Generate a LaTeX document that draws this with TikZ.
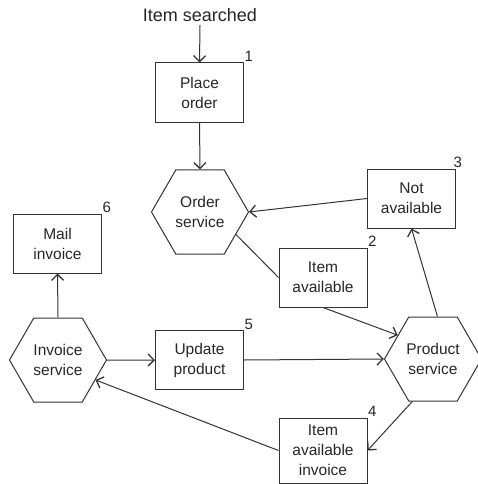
\documentclass[tikz,border=0pt]{standalone}
\usepackage{fontspec}
\setmainfont{Liberation Sans}
\usetikzlibrary{shapes.geometric,arrows.meta}

\begin{document}
\begin{tikzpicture}[x=1pt, y=-1pt,
  box/.style={draw=black!80, line width=1pt, minimum width=88pt,
              minimum height=59pt, align=center, inner sep=2pt,
              font=\fontsize{15.5}{20}\selectfont, text=black!85},
  svc/.style={draw=black!80, line width=1pt, regular polygon,
              regular polygon sides=6, minimum size=97pt, inner sep=0pt,
              align=center, font=\fontsize{15.5}{20}\selectfont, text=black!85},
  num/.style={anchor=south west, inner sep=0.5pt,
              font=\fontsize{15}{18}\selectfont, text=black!85},
  flow/.style={-{Straight Barb[length=6pt,width=12pt,line width=1.3pt]},
               line width=1pt, black!80},
  link/.style={line width=1pt, black!80},
]
\useasboundingbox (0,0) rectangle (478,484);

% ================= services (hexagons) =================
\node[svc] (osvc) at (200,212) {Order\\service};
\node[svc] (psvc) at (433,359) {Product\\service};
\node[svc] (isvc) at (58,360)  {Invoice\\service};

% ================= steps (boxes) =================
\node[font=\fontsize{18}{20}\selectfont, text=black!85] (srch) at (200,15)
  {Item searched};
\node[box] (place) at (199.5,92.5) {Place\\order};
\node[box] (avail) at (323,277.5)  {Item\\available};
\node[box] (nav)   at (411.5,198.5){Not\\available};
\node[box, minimum height=65pt] (avinv) at (323,450.5)
  {Item\\available\\invoice};
\node[box] (upd)   at (199.5,360)  {Update\\product};
\node[box] (mail)  at (57.5,243.5) {Mail\\invoice};

% step numbers at the top right corners
\node[num] at (place.north east) {1};
\node[num] at (avail.north east) {2};
\node[num, xshift=-3pt] at (nav.north east) {3};
\node[num] at (avinv.north east) {4};
\node[num] at (upd.north east) {5};
\node[num] at (mail.north east) {6};

% ================= connectors =================
\foreach \a/\b in {srch.south/place.north, place.south/osvc.north,
                   nav.west/osvc.east, avail.south/psvc.146,
                   psvc.84/nav.south, psvc.244/avinv.east,
                   avinv.west/isvc.-28, isvc.east/upd.west,
                   upd.east/psvc.west, isvc.north/mail.south}
  \draw[flow] (\a) -- (\b);

\draw[link] (osvc.-32) -- (avail.west);

\end{tikzpicture}
\end{document}
